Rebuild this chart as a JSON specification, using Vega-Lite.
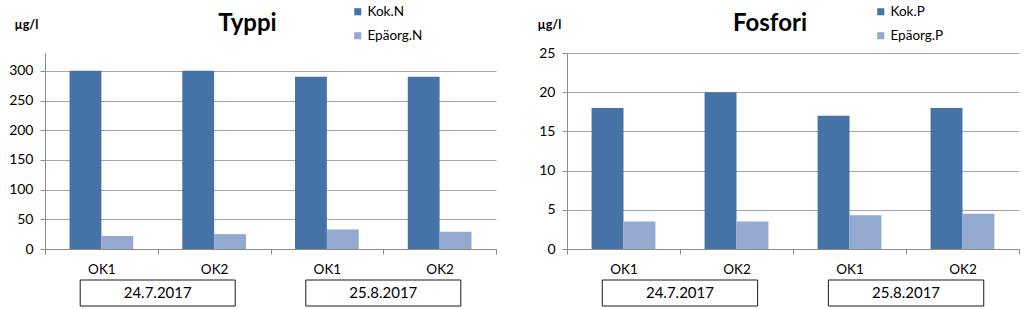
{
  "$schema": "https://vega.github.io/schema/vega-lite/v6.json",
  "background": "white",
  "padding": {"left": 8, "top": 5, "right": 5, "bottom": 3},
  "config": {
    "font": "Lato",
    "view": {"stroke": null},
    "axis": {"labelColor": "#000000", "domainColor": "#8c8c8c", "tickColor": "#8c8c8c", "gridColor": "#a6a6a6", "labelFont": "Lato"}
  },
  "datasets": {
    "typpi": [
      {"key": "24.7.2017 OK1", "sarja": "Kok.N", "arvo": 300},
      {"key": "24.7.2017 OK1", "sarja": "Epäorg.N", "arvo": 22},
      {"key": "24.7.2017 OK2", "sarja": "Kok.N", "arvo": 300},
      {"key": "24.7.2017 OK2", "sarja": "Epäorg.N", "arvo": 25},
      {"key": "25.8.2017 OK1", "sarja": "Kok.N", "arvo": 290},
      {"key": "25.8.2017 OK1", "sarja": "Epäorg.N", "arvo": 33},
      {"key": "25.8.2017 OK2", "sarja": "Kok.N", "arvo": 290},
      {"key": "25.8.2017 OK2", "sarja": "Epäorg.N", "arvo": 29}
    ],
    "fosfori": [
      {"key": "24.7.2017 OK1", "sarja": "Kok.P", "arvo": 18},
      {"key": "24.7.2017 OK1", "sarja": "Epäorg.P", "arvo": 3.5},
      {"key": "24.7.2017 OK2", "sarja": "Kok.P", "arvo": 20},
      {"key": "24.7.2017 OK2", "sarja": "Epäorg.P", "arvo": 3.5},
      {"key": "25.8.2017 OK1", "sarja": "Kok.P", "arvo": 17},
      {"key": "25.8.2017 OK1", "sarja": "Epäorg.P", "arvo": 4.3},
      {"key": "25.8.2017 OK2", "sarja": "Kok.P", "arvo": 18},
      {"key": "25.8.2017 OK2", "sarja": "Epäorg.P", "arvo": 4.5}
    ],
    "paivat": [
      {"pvm": "24.7.2017"},
      {"pvm": "25.8.2017"}
    ]
  },
  "hconcat": [
    {
      "vconcat": [
        {
          "width": 451,
          "height": 196,
          "data": {"name": "typpi"},
          "title": {"text": "Typpi", "fontSize": 24, "fontWeight": "bold", "font": "Lato", "anchor": "middle", "dx": -23, "offset": -18},
          "mark": {"type": "bar"},
          "encoding": {
            "x": {"field": "key", "type": "nominal", "sort": null, "scale": {"paddingInner": 0, "paddingOuter": 0},
              "axis": {"title": null, "labelAngle": 0, "labelExpr": "slice(datum.label, -3)", "tickBand": "extent", "tickSize": 5, "labelPadding": 8, "labelFontSize": 13.5, "grid": false}},
            "xOffset": {"field": "sarja", "type": "nominal", "sort": ["Kok.N", "Epäorg.N"], "scale": {"paddingInner": 0, "paddingOuter": 0.77}},
            "y": {"field": "arvo", "type": "quantitative", "scale": {"domain": [0, 330], "nice": false},
              "axis": {"values": [0, 50, 100, 150, 200, 250, 300], "grid": true, "tickSize": 5, "labelPadding": 7, "labelFontSize": 14,
                "title": "µg/l", "titleAngle": 0, "titleAlign": "left", "titleBaseline": "middle", "titleX": -31, "titleY": -29, "titleFontSize": 12.5, "titleFontWeight": "bold", "titleFont": "Lato"}},
            "color": {"field": "sarja", "type": "nominal", "sort": ["Kok.N", "Epäorg.N"],
              "scale": {"domain": ["Kok.N", "Epäorg.N"], "range": ["#4572a7", "#93a9cf"]},
              "legend": {"title": null, "orient": "none", "legendX": 306, "legendY": -48, "symbolType": "square", "symbolSize": 50, "symbolStrokeWidth": 0, "labelFontSize": 13.5, "labelFont": "Lato", "rowPadding": 9, "labelOffset": 3}}
          }
        },
        {
          "width": 451,
          "height": 26,
          "data": {"name": "paivat"},
          "layer": [
            {"mark": {"type": "rect", "fill": "white", "stroke": "#1a1a1a", "strokeWidth": 1},
              "encoding": {"x": {"field": "pvm", "type": "nominal", "axis": null, "scale": {"paddingInner": 0.313, "paddingOuter": 0.156}}}},
            {"mark": {"type": "text", "fontSize": 15, "font": "Lato"},
              "encoding": {"x": {"field": "pvm", "type": "nominal", "axis": null}, "text": {"field": "pvm"}}}
          ]
        }
      ],
      "spacing": 3,
      "resolve": {"scale": {"x": "independent"}}
    },
    {
      "vconcat": [
        {
          "width": 452,
          "height": 196,
          "data": {"name": "fosfori"},
          "title": {"text": "Fosfori", "fontSize": 24, "fontWeight": "bold", "font": "Lato", "anchor": "middle", "dx": -23, "offset": -18},
          "mark": {"type": "bar"},
          "encoding": {
            "x": {"field": "key", "type": "nominal", "sort": null, "scale": {"paddingInner": 0, "paddingOuter": 0},
              "axis": {"title": null, "labelAngle": 0, "labelExpr": "slice(datum.label, -3)", "tickBand": "extent", "tickSize": 5, "labelPadding": 8, "labelFontSize": 13.5, "grid": false}},
            "xOffset": {"field": "sarja", "type": "nominal", "sort": ["Kok.P", "Epäorg.P"], "scale": {"paddingInner": 0, "paddingOuter": 0.77}},
            "y": {"field": "arvo", "type": "quantitative", "scale": {"domain": [0, 25], "nice": false},
              "axis": {"values": [0, 5, 10, 15, 20, 25], "grid": true, "tickSize": 5, "labelPadding": 7, "labelFontSize": 14,
                "title": "µg/l", "titleAngle": 0, "titleAlign": "left", "titleBaseline": "middle", "titleX": -30, "titleY": -29, "titleFontSize": 12.5, "titleFontWeight": "bold", "titleFont": "Lato"}},
            "color": {"field": "sarja", "type": "nominal", "sort": ["Kok.P", "Epäorg.P"],
              "scale": {"domain": ["Kok.P", "Epäorg.P"], "range": ["#4572a7", "#93a9cf"]},
              "legend": {"title": null, "orient": "none", "legendX": 307, "legendY": -48, "symbolType": "square", "symbolSize": 50, "symbolStrokeWidth": 0, "labelFontSize": 13.5, "labelFont": "Lato", "rowPadding": 9, "labelOffset": 3}}
          }
        },
        {
          "width": 452,
          "height": 26,
          "data": {"name": "paivat"},
          "layer": [
            {"mark": {"type": "rect", "fill": "white", "stroke": "#1a1a1a", "strokeWidth": 1},
              "encoding": {"x": {"field": "pvm", "type": "nominal", "axis": null, "scale": {"paddingInner": 0.313, "paddingOuter": 0.156}}}},
            {"mark": {"type": "text", "fontSize": 15, "font": "Lato"},
              "encoding": {"x": {"field": "pvm", "type": "nominal", "axis": null}, "text": {"field": "pvm"}}}
          ]
        }
      ],
      "spacing": 3,
      "resolve": {"scale": {"x": "independent"}}
    }
  ],
  "spacing": 40,
  "resolve": {"scale": {"color": "independent", "x": "independent", "y": "independent", "xOffset": "independent"}, "legend": {"color": "independent"}}
}
